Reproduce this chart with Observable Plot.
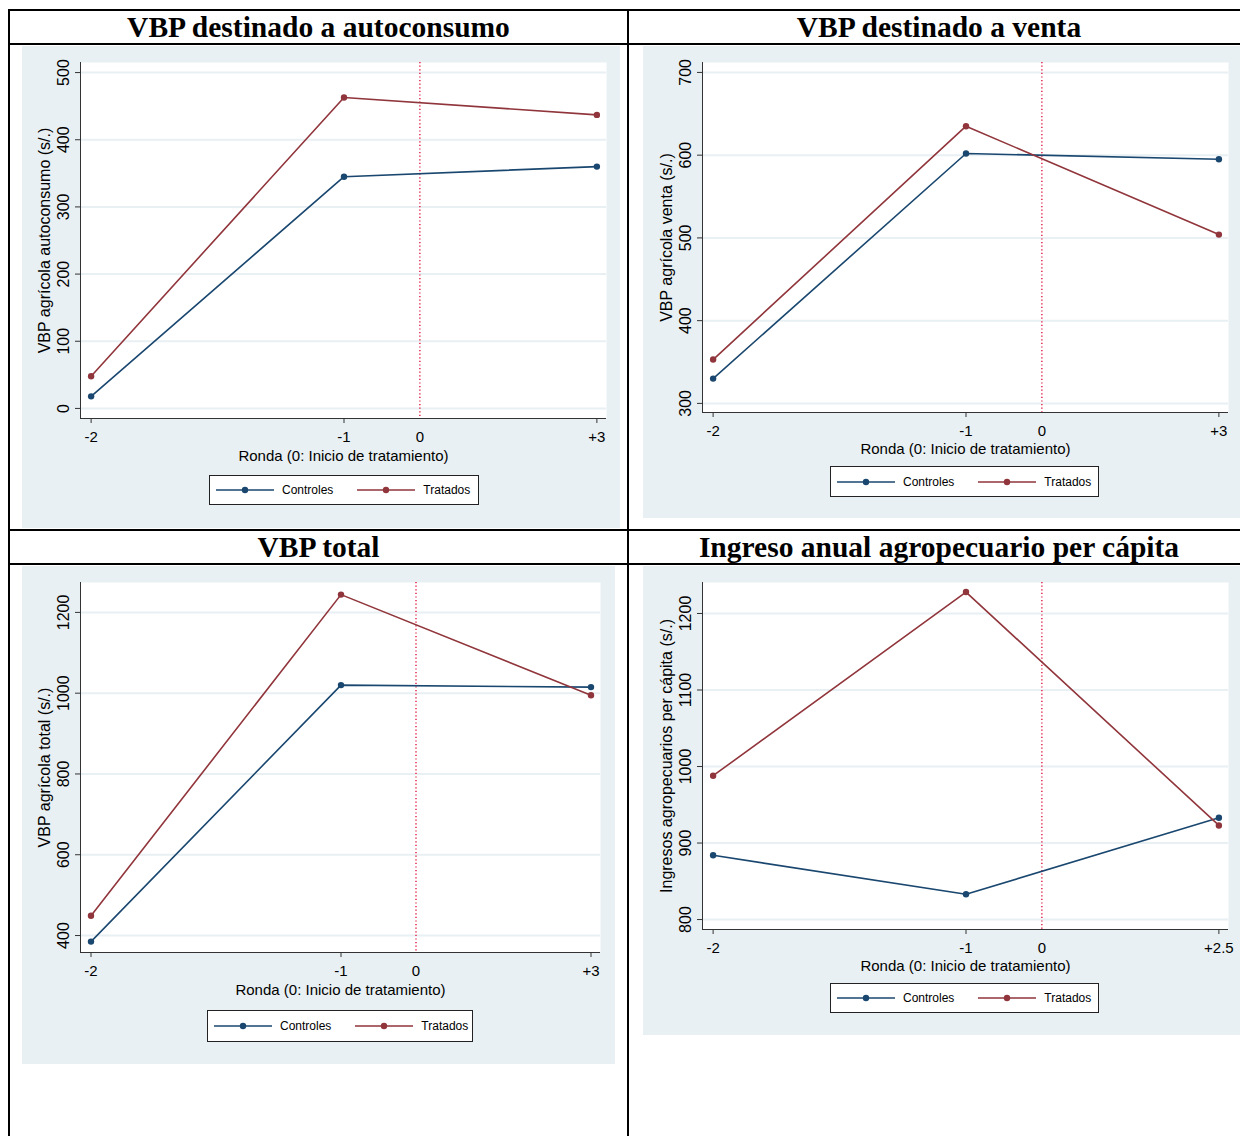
<!DOCTYPE html>
<html>
<head>
<meta charset="utf-8">
<script src="https://cdn.jsdelivr.net/npm/d3@7"></script>
<script src="https://cdn.jsdelivr.net/npm/@observablehq/plot@0.6"></script>
<style>
  html, body { margin: 0; padding: 0; background: #fff; }
  #page { position: relative; width: 1240px; height: 1136px; overflow: hidden; font-family: "Liberation Sans", Arial, sans-serif; }
  .hline { position: absolute; height: 2px; background: #000; }
  .vline { position: absolute; width: 2px; background: #000; }
  .title { position: absolute; text-align: center; font-family: "Liberation Serif", "Times New Roman", serif; font-weight: bold; font-size: 29.5px; line-height: 32px; color: #000; }
  .panel { position: absolute; background: #e9f0f3; }
  .panel svg { position: absolute; left: 0; top: 0; }
  .legend { position: absolute; background: #fff; border: 1px solid #222; box-sizing: border-box; display: flex; align-items: center; font-size: 12px; color: #000; }
  .legend .item { display: flex; align-items: center; }
  .legend svg { position: static; display: block; }
</style>
</head>
<body>
<div id="page"></div>
<script>
// ---------- data ----------
const series = ["Controles", "Tratados"];
const seriesColors = ["#1a476f", "#90353b"];
const rondaPos = [-13, -3, 7];          // position of each round on the time axis (0 = start of treatment)
const rondaLabels = ["-2", "-1", "+3"];
const rondaLabelsIngreso = ["-2", "-1", "+2.5"];
const xTitle = "Ronda (0: Inicio de tratamiento)";

const autoconsumoControles = [18, 345, 360];
const autoconsumoTratados  = [48, 463, 437];
const autoconsumoTicks = [0, 100, 200, 300, 400, 500];

const ventaControles = [330, 602, 595];
const ventaTratados  = [353, 635, 504];
const ventaTicks = [300, 400, 500, 600, 700];

const totalControles = [385, 1020, 1015];
const totalTratados  = [449, 1244, 995];
const totalTicks = [400, 600, 800, 1000, 1200];

const ingresoControles = [884, 833, 933];
const ingresoTratados  = [988, 1228, 923];
const ingresoTicks = [800, 900, 1000, 1100, 1200];

const titles = ["VBP destinado a autoconsumo", "VBP destinado a venta", "VBP total", "Ingreso anual agropecuario per cápita"];
const yTitles = ["VBP agrícola autoconsumo (s/.)", "VBP agrícola venta (s/.)", "VBP agrícola total (s/.)", "Ingresos agropecuarios per cápita (s/.)"];

// ---------- layout ----------
const page = document.getElementById("page");
function el(cls, css, text) {
  const d = document.createElement("div");
  d.className = cls;
  Object.assign(d.style, css);
  if (text) d.textContent = text;
  page.appendChild(d);
  return d;
}
// table rules
el("hline", {left: "8px", top: "9px", width: "1232px"});
el("hline", {left: "8px", top: "43px", width: "1232px"});
el("hline", {left: "8px", top: "529px", width: "1232px"});
el("hline", {left: "8px", top: "563px", width: "1232px"});
el("vline", {left: "8px", top: "9px", height: "1127px"});
el("vline", {left: "627px", top: "9px", height: "1127px"});
// titles
el("title", {left: "10px", width: "617px", top: "11px"}, titles[0]);
el("title", {left: "629px", width: "620px", top: "11px"}, titles[1]);
el("title", {left: "10px", width: "617px", top: "531px"}, titles[2]);
el("title", {left: "629px", width: "620px", top: "531px"}, titles[3]);

const xDomain = [-13.42, 7.38];
const gridColor = "#e9f0f3";
const axisColor = "#333";
const refColor = "#e2264a";

function makeData(ctrl, trat) {
  const rows = [];
  rondaPos.forEach((x, i) => rows.push({x, y: ctrl[i], s: series[0]}));
  rondaPos.forEach((x, i) => rows.push({x, y: trat[i], s: series[1]}));
  return rows;
}

function panel(p) {
  const box = el("panel", {left: p.left + "px", top: p.top + "px", width: p.w + "px", height: p.h + "px"});
  const data = makeData(p.ctrl, p.trat);
  const chart = Plot.plot({
    width: p.w, height: p.svgH,
    marginLeft: p.ml, marginRight: p.mr, marginTop: p.mt, marginBottom: p.mb,
    style: {background: "transparent", fontFamily: "'Liberation Sans', Arial, sans-serif", fontSize: "15px", color: "#000", overflow: "visible"},
    x: {domain: xDomain},
    y: {domain: p.yDomain},
    color: {domain: series, range: seriesColors},
    marks: [
      Plot.frame({fill: "#fff", stroke: null}),
      Plot.gridY(p.ticks, {stroke: gridColor, strokeOpacity: 1, strokeWidth: 2}),
      Plot.ruleX([0], {stroke: refColor, strokeWidth: 1.5, strokeDasharray: "1.2,2.4"}),
      Plot.line(data, {x: "x", y: "y", z: "s", stroke: "s", strokeWidth: 1.6}),
      Plot.dot(data, {x: "x", y: "y", fill: "s", r: 3.2}),
      Plot.ruleX([xDomain[0]], {stroke: axisColor, strokeWidth: 1}),
      Plot.ruleY([p.yDomain[0]], {stroke: axisColor, strokeWidth: 1}),
      Plot.axisY(p.ticks, {anchor: "left", tickSize: 5, tickRotate: -90, tickPadding: 7, stroke: axisColor, fontSize: 16,
        tickFormat: d => String(d),
        label: p.yTitle, labelAnchor: "center", labelArrow: "none", labelOffset: 42}),
      Plot.axisX(rondaPos, {anchor: "bottom", tickSize: 5, tickPadding: 8, stroke: axisColor, fontSize: 15,
        tickFormat: d => p.xLabels[rondaPos.indexOf(d)], label: null}),
      Plot.axisX([0], {anchor: "bottom", tickSize: 0, tickPadding: 13, fontSize: 15, tickFormat: d => "0", label: null}),
      Plot.text([xTitle], {frameAnchor: "bottom", lineAnchor: "middle", dy: p.titleDy, fontSize: 15, fill: "#000"})
    ]
  });
  box.appendChild(chart);
  // legend
  const lg = el("legend", {left: p.lg[0] + "px", top: p.lg[1] + "px", width: p.lg[2] + "px", height: p.lg[3] + "px"});
  series.forEach((s, i) => {
    const item = document.createElement("div");
    item.className = "item";
    item.style.marginLeft = i === 0 ? "6px" : "24px";
    const ns = "http://www.w3.org/2000/svg";
    const sv = document.createElementNS(ns, "svg");
    sv.setAttribute("width", "58"); sv.setAttribute("height", "10");
    const ln = document.createElementNS(ns, "line");
    ln.setAttribute("x1", 0); ln.setAttribute("x2", 58); ln.setAttribute("y1", 5); ln.setAttribute("y2", 5);
    ln.setAttribute("stroke", seriesColors[i]); ln.setAttribute("stroke-width", 1.6);
    const c = document.createElementNS(ns, "circle");
    c.setAttribute("cx", 29); c.setAttribute("cy", 5); c.setAttribute("r", 3.2); c.setAttribute("fill", seriesColors[i]);
    sv.appendChild(ln); sv.appendChild(c);
    const t = document.createElement("span");
    t.textContent = s; t.style.marginLeft = "8px";
    item.appendChild(sv); item.appendChild(t);
    lg.appendChild(item);
  });
}

panel({left: 22, top: 46, w: 598, h: 482, svgH: 430, ml: 58, mr: 14, mt: 16, mb: 58,
  yDomain: [-15, 515], ticks: autoconsumoTicks, ctrl: autoconsumoControles, trat: autoconsumoTratados,
  xLabels: rondaLabels, yTitle: yTitles[0], titleDy: 38, lg: [209, 475, 270, 30]});
panel({left: 643, top: 46, w: 597, h: 472, svgH: 420, ml: 59, mr: 12, mt: 16, mb: 54,
  yDomain: [289, 712], ticks: ventaTicks, ctrl: ventaControles, trat: ventaTratados,
  xLabels: rondaLabels, yTitle: yTitles[1], titleDy: 37, lg: [830, 466, 269, 31]});
panel({left: 22, top: 566, w: 593, h: 498, svgH: 440, ml: 58, mr: 15, mt: 16, mb: 54,
  yDomain: [358, 1274], ticks: totalTicks, ctrl: totalControles, trat: totalTratados,
  xLabels: rondaLabels, yTitle: yTitles[2], titleDy: 38, lg: [207, 1010, 266, 32]});
panel({left: 643, top: 566, w: 597, h: 469, svgH: 420, ml: 59, mr: 12, mt: 16, mb: 57,
  yDomain: [787, 1240.5], ticks: ingresoTicks, ctrl: ingresoControles, trat: ingresoTratados,
  xLabels: rondaLabelsIngreso, yTitle: yTitles[3], titleDy: 37, lg: [830, 983, 269, 30]});
</script>
</body>
</html>
